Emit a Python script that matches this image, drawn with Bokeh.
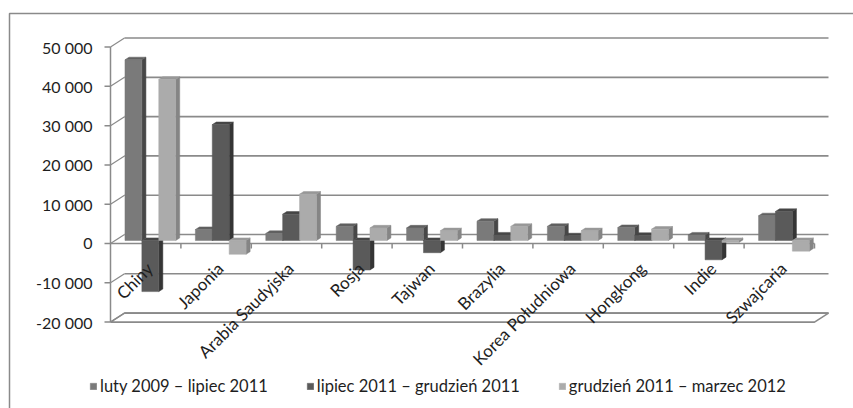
import math
from bokeh.plotting import figure
from bokeh.models import Range1d, Legend, LegendItem, ColumnDataSource
from bokeh.core.properties import value
from bokeh.embed import file_html
from bokeh.resources import INLINE

# ---------------- data ----------------
categories = ["Chiny", "Japonia", "Arabia Saudyjska", "Rosja", "Tajwan",
              "Brazylia", "Korea Południowa", "Hongkong", "Indie", "Szwajcaria"]
series_names = ["luty 2009 – lipiec 2011",
                "lipiec 2011 – grudzień 2011",
                "grudzień 2011 – marzec 2012"]
luty2009_lipiec2011 = [46000, 2800, 1800, 3600, 3200, 4900, 3600, 3300, 1400, 6300]
lipiec2011_grudzien2011 = [-13000, 29500, 6700, -7500, -3100, 1400, 1200, 1300, -4900, 7400]
grudzien2011_marzec2012 = [41000, -3500, 11800, 3200, 2500, 3600, 2500, 2900, -500, -2700]
y_ticks = [-20000, -10000, 0, 10000, 20000, 30000, 40000, 50000]
y_tick_labels = ["-20 000", "-10 000", "0", "10 000", "20 000", "30 000", "40 000", "50 000"]

series_values = [luty2009_lipiec2011, lipiec2011_grudzien2011, grudzien2011_marzec2012]

# ---------------- styles / geometry ----------------
W, H = 853, 408
PX_CAT = 70.4          # pixels per category
PXU = 0.003929         # pixels per value unit
X_ORIG, Y_ORIG = 110, 243
DX = 14 / PX_CAT       # depth offset (x, category units)
DY = 9 / PXU           # depth offset (y, value units)
F1, F2 = 0.33, 0.62    # bar front / back depth fractions
BW = 0.24              # bar width in category units
FONT = "Lato"
FS = "16px"
TXT = "#1e1e1e"
GRID = "#8a8a8a"

front_cols = ["#7a7a7a", "#5a5a5a", "#ababab"]
top_cols = ["#606060", "#464646", "#989898"]
side_cols = ["#474747", "#353535", "#858585"]


def px2x(px):
    return (px - X_ORIG) / PX_CAT


def py2y(py):
    return (Y_ORIG - py) / PXU


p = figure(width=W, height=H, output_backend="svg", toolbar_location=None,
           x_range=Range1d(px2x(0), px2x(W)), y_range=Range1d(py2y(H), py2y(0)),
           min_border=0, x_axis_location=None, y_axis_location=None)
p.grid.visible = False
p.outline_line_color = None
p.background_fill_color = "#ffffff"
p.border_fill_color = "#ffffff"

n = len(categories)
ymin, ymax = y_ticks[0], y_ticks[-1]

# outer chart border
p.line(x=[px2x(9), px2x(9), px2x(W + 5)], y=[py2y(H + 5), py2y(13), py2y(13)],
       line_color="#8a8a8a", line_width=1.5)

# floor at the bottom value
p.patch(x=[0, n, n + DX, DX], y=[ymin, ymin, ymin + DY, ymin + DY],
        fill_color="#ffffff", line_color=GRID, line_width=1.6)

# back wall gridlines and left wall diagonals
p.multi_line(xs=[[DX, n + DX] for _ in y_ticks], ys=[[v + DY, v + DY] for v in y_ticks],
             line_color=GRID, line_width=1.6)
p.multi_line(xs=[[0, DX] for _ in y_ticks], ys=[[v, v + DY] for v in y_ticks],
             line_color=GRID, line_width=1.2)

# value axis (front)
p.line(x=[0, 0], y=[ymin, ymax], line_color=GRID, line_width=1.5)
p.multi_line(xs=[[-6 / PX_CAT, 0] for _ in y_ticks], ys=[[v, v] for v in y_ticks],
             line_color=GRID, line_width=1.5)
p.text(x=[px2x(92)] * len(y_ticks), y=y_ticks, text=y_tick_labels,
       text_align="right", text_baseline="middle", text_color=TXT,
       text_font=value(FONT), text_font_size=FS)

# category axis at zero
p.line(x=[0, n], y=[0, 0], line_color=GRID, line_width=1.5)
p.multi_line(xs=[[i, i] for i in range(1, n + 1)], ys=[[0, -5 / PXU] for _ in range(n)],
             line_color=GRID, line_width=1.5)

# 3D bars
front_renderers = []
for s, vals in enumerate(series_values):
    lefts = [i + 0.5 + (s - 1) * BW - BW / 2 for i in range(n)]
    rights = [a + BW for a in lefts]
    side_xs, side_ys, top_xs, top_ys = [], [], [], []
    for a, b, v in zip(lefts, rights, vals):
        side_xs.append([b + F1 * DX, b + F2 * DX, b + F2 * DX, b + F1 * DX])
        side_ys.append([F1 * DY, F2 * DY, v + F2 * DY, v + F1 * DY])
        t = max(v, 0)
        top_xs.append([a + F1 * DX, b + F1 * DX, b + F2 * DX, a + F2 * DX])
        top_ys.append([t + F1 * DY, t + F1 * DY, t + F2 * DY, t + F2 * DY])
    p.patches(xs=side_xs, ys=side_ys, fill_color=side_cols[s], line_color=side_cols[s], line_width=0.5)
    p.patches(xs=top_xs, ys=top_ys, fill_color=top_cols[s], line_color=top_cols[s], line_width=0.5)
    src = ColumnDataSource(dict(left=[a + F1 * DX for a in lefts],
                                right=[b + F1 * DX for b in rights],
                                bottom=[min(v, 0) + F1 * DY for v in vals],
                                top=[max(v, 0) + F1 * DY for v in vals]))
    r = p.quad(left="left", right="right", bottom="bottom", top="top", source=src,
               fill_color=front_cols[s], line_color=front_cols[s], line_width=0.5)
    front_renderers.append(r)

# category labels (rotated)
p.text(x=[i + 0.5 + 4 / PX_CAT for i in range(n)], y=[py2y(265)] * n, text=categories,
       angle=math.pi / 4, text_align="right", text_baseline="middle", text_color=TXT,
       text_font=value(FONT), text_font_size="17px")

legend = Legend(items=[LegendItem(label=nm, renderers=[r]) for nm, r in zip(series_names, front_renderers)],
                orientation="horizontal", location=(89, 12), padding=0, margin=0,
                spacing=38, glyph_width=8, glyph_height=8, label_standoff=3,
                label_text_font=FONT, label_text_font_size="16.5px", label_text_color=TXT,
                border_line_color=None, background_fill_alpha=0)
p.add_layout(legend)

open("out.html", "w").write(file_html(p, INLINE))
